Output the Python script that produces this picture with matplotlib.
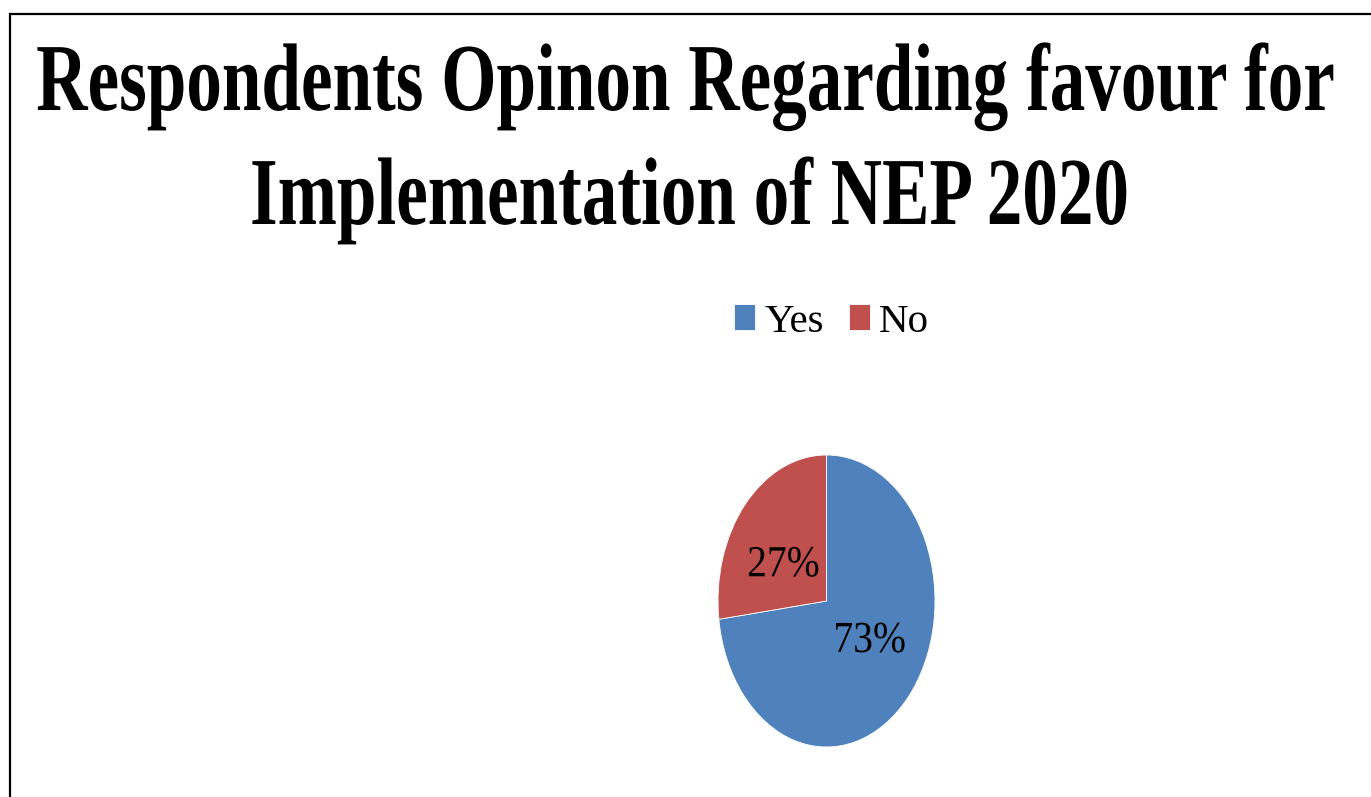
import matplotlib
matplotlib.use("Agg")
import matplotlib.pyplot as plt
from matplotlib.patches import Rectangle
from matplotlib.patheffects import AbstractPathEffect
from matplotlib.transforms import Affine2D

# data
labels = ["Yes", "No"]
shares = [73, 27]
colors = ["#4F81BD", "#C0504D"]
title_lines = ["Respondents Opinon Regarding favour for",
               "Implementation of NEP 2020"]


class Stretch(AbstractPathEffect):
    # stretch glyphs vertically about the baseline (the original font looks condensed)
    def __init__(self, sy):
        super().__init__()
        self.sy = sy

    def draw_path(self, renderer, gc, tpath, affine, rgbFace=None):
        renderer.draw_path(gc, tpath, Affine2D().scale(1, self.sy) + affine, rgbFace)


W, H = 1371, 797
fig = plt.figure(figsize=(W / 100, H / 100), dpi=100)
fig.patch.set_facecolor("white")

serif = "Liberation Serif"

# title, two lines
fig.text(0.5, 1 - 110 / H, title_lines[0], ha="center", va="baseline",
         fontsize=51.2, fontweight="bold", family=serif,
         path_effects=[Stretch(1.35)])
fig.text(0.503, 1 - 224 / H, title_lines[1], ha="center", va="baseline",
         fontsize=51.2, fontweight="bold", family=serif,
         path_effects=[Stretch(1.35)])

# pie (drawn as an ellipse, like the source)
ax = fig.add_axes([718 / W, 1 - 747 / H, 217 / W, 292 / H])
wedges, texts, autotexts = ax.pie(shares, colors=colors, startangle=90,
                                  counterclock=False, autopct="%1.0f%%",
                                  pctdistance=0.53,
                                  wedgeprops=dict(edgecolor="white", linewidth=0.6),
                                  textprops=dict(family=serif, fontsize=28.5,
                                                 color="black"))
ax.set_aspect("auto")
ax.set_xlim(-1, 1)
ax.set_ylim(-1, 1)
for t in autotexts:
    x, y = t.get_position()
    t.set_position((x, y * 0.74 - 0.025))
    t.set_path_effects([Stretch(1.12)])

# legend
leg = fig.legend(wedges, labels, loc="center", ncol=2,
                 bbox_to_anchor=(831.5 / W, 1 - 322 / H),
                 frameon=False, borderpad=0, borderaxespad=0,
                 handlelength=0.52, handleheight=0.6, handletextpad=0.22,
                 columnspacing=0.62,
                 prop=dict(family=serif, size=29.5))

# frame around the chart area (only left and top edges visible)
fig.add_artist(Rectangle((9.5 / W, -0.2), 1.5, 1.2 - 13.7 / H,
                         transform=fig.transFigure, fill=False,
                         edgecolor="black", linewidth=1.6, clip_on=False))

fig.savefig("out.png", dpi=100)
